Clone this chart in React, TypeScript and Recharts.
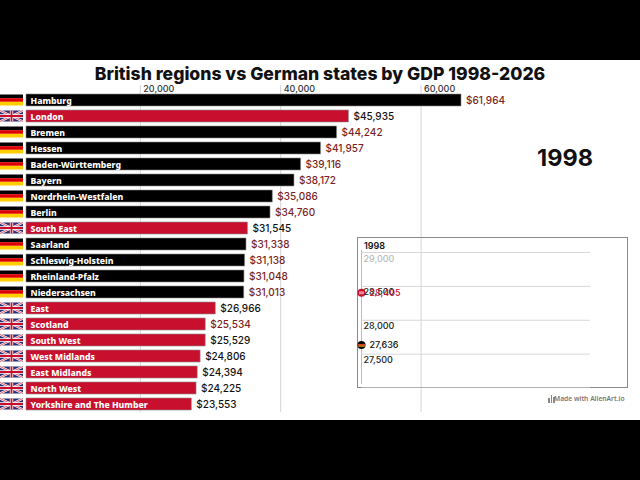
import { Bar, BarChart, CartesianGrid, Cell, LabelList, Line, LineChart, XAxis, YAxis } from 'recharts';

const regions = [
  'Hamburg', 'London', 'Bremen', 'Hessen', 'Baden-Württemberg', 'Bayern', 'Nordrhein-Westfalen', 'Berlin', 'South East', 'Saarland',
  'Schleswig-Holstein', 'Rheinland-Pfalz', 'Niedersachsen', 'East', 'Scotland', 'South West', 'West Midlands', 'East Midlands', 'North West', 'Yorkshire and The Humber',
];
const gdp = [61964, 45935, 44242, 41957, 39116, 38172, 35086, 34760, 31545, 31338, 31138, 31048, 31013, 26966, 25534, 25529, 24806, 24394, 24225, 23553];
const countries = ['de', 'uk', 'de', 'de', 'de', 'de', 'de', 'de', 'uk', 'de', 'de', 'de', 'de', 'uk', 'uk', 'uk', 'uk', 'uk', 'uk', 'uk'];
// rows whose value label is printed in dark red in the picture
const redValueRows = ['Hamburg', 'Bremen', 'Hessen', 'Baden-Württemberg', 'Bayern', 'Nordrhein-Westfalen', 'Berlin', 'Saarland', 'Schleswig-Holstein', 'Rheinland-Pfalz', 'Niedersachsen', 'Scotland'];
const axisTicks = [20000, 40000, 60000];

const insetYear = [1998];
const insetBritish = [28405];
const insetGerman = [27636];
const insetTicks = [27500, 28000, 28500, 29000];

const barData = regions.map((name, i) => ({ name, gdp: gdp[i], country: countries[i] }));
const insetData = insetYear.map((year, i) => ({ year, british: insetBritish[i], german: insetGerman[i] }));

const FONT = 'Inter, sans-serif';
const LABEL_FONT = '"Noto Sans", sans-serif';
const RED = '#c8102e';

const fmt = (v: number) => v.toLocaleString('en-US');

const GermanFlag = ({ x, y, w, h }: any) => (
  <g>
    <rect x={x} y={y} width={w} height={h / 3} fill="#000" />
    <rect x={x} y={y + h / 3} width={w} height={h / 3} fill="#dd0000" />
    <rect x={x} y={y + (2 * h) / 3} width={w} height={h / 3} fill="#ffce00" />
  </g>
);

const UkFlag = ({ x, y, w, h }: any) => (
  <g>
    <rect x={x} y={y} width={w} height={h} fill="#2b2f6e" />
    <path d={`M${x} ${y}L${x + w} ${y + h}M${x + w} ${y}L${x} ${y + h}`} stroke="#fff" strokeWidth={2.2} />
    <path d={`M${x} ${y}L${x + w} ${y + h}M${x + w} ${y}L${x} ${y + h}`} stroke="#c8102e" strokeWidth={0.7} />
    <path d={`M${x + w / 2} ${y}V${y + h}M${x} ${y + h / 2}H${x + w}`} stroke="#fff" strokeWidth={3.4} />
    <path d={`M${x + w / 2} ${y}V${y + h}M${x} ${y + h / 2}H${x + w}`} stroke="#c8102e" strokeWidth={1.8} />
  </g>
);

// flag to the left of each bar
const FlagTick = ({ y, payload }: any) => {
  const c = countries[regions.indexOf(payload.value)];
  return c === 'uk' ? <UkFlag x={0} y={y - 5.5} w={23} h={11} /> : <GermanFlag x={0} y={y - 5.5} w={23} h={11} />;
};

// labels sit right of a short tick line, above the plot
const TopTick = ({ x, payload }: any) => (
  <g>
    <line x1={x} x2={x} y1={85} y2={92} stroke="#cfcfcf" />
    <text x={x + 3} y={92} fontSize={9} fontFamily={FONT} fontWeight={500} fill="#333">
      {fmt(payload.value)}
    </text>
  </g>
);

const NameLabel = ({ x, y, height, value }: any) => (
  <text x={x + 4.5} y={y + height / 2 + 3.7} fontSize={8.7} fontWeight={800} fontFamily={LABEL_FONT} fill="#fff">
    {value}
  </text>
);

const ValueLabel = ({ x, y, width, height, value, index }: any) => (
  <text
    x={x + width + 5}
    y={y + height / 2 + 3.8}
    fontSize={10}
    fontWeight={500}
    fontFamily={FONT}
    fill={redValueRows.includes(regions[index]) ? '#7a1f24' : '#111'}
  >
    ${fmt(value)}
  </text>
);

const InsetTick = ({ x, y, payload }: any) => (
  <text x={x + 10} y={y + 9} fontSize={9} fontWeight={500} fontFamily={FONT} fill={payload.value === 29000 ? '#bbb' : '#222'}>
    {fmt(payload.value)}
  </text>
);

const BritishDot = ({ cx, cy }: any) => (
  <g>
    <circle cx={cx} cy={cy} r={4} fill={RED} />
    <rect x={cx - 2.5} y={cy - 1.5} width={5} height={3} fill="#e58a98" />
  </g>
);

const GermanDot = ({ cx, cy }: any) => (
  <g>
    <circle cx={cx} cy={cy} r={4} fill="#000" />
    <rect x={cx - 3.6} y={cy - 1} width={7.2} height={1.4} fill="#d33" />
    <rect x={cx - 3.2} y={cy + 0.4} width={6.4} height={1.4} fill="#e8a000" />
  </g>
);

// LabelList overrides fill on its content, so the colour goes in under another name
const InsetValue = ({ x, y, value, color }: any) => (
  <text x={x + 8} y={y + 3.5} fontSize={9} fontWeight={500} fontFamily={FONT} fill={color}>
    {fmt(value)}
  </text>
);

export default function App() {
  return (
    <div style={{ position: 'absolute', left: 0, top: 0, width: 640, height: 480, background: '#fff', overflow: 'hidden' }}>
      <div style={{ position: 'absolute', left: 0, top: 0, width: 640, height: 60, background: '#000' }} />
      <div style={{ position: 'absolute', left: 0, top: 420, width: 640, height: 60, background: '#000' }} />
      <div
        style={{
          position: 'absolute',
          top: 61.5,
          left: 0,
          width: 640,
          textAlign: 'center',
          fontFamily: FONT,
          fontWeight: 800,
          fontSize: 17.6,
          lineHeight: '24px',
          color: '#111',
        }}
      >
        British regions vs German states by GDP 1998-2026
      </div>

      <div style={{ position: 'absolute', left: 0, top: 0 }}>
        <BarChart
          width={640}
          height={480}
          data={barData}
          layout="vertical"
          barCategoryGap={2}
          margin={{ top: 91, right: 157.7, bottom: 68, left: 0 }}
        >
          <CartesianGrid xAxisId="grid" horizontal={false} stroke="#d4d4d4" syncWithTicks />
          {/* the printed axis is shifted from the bars in the source, so it gets its own domain */}
          <XAxis
            xAxisId="grid"
            type="number"
            orientation="top"
            domain={[3720, 68720]}
            ticks={axisTicks}
            allowDataOverflow
            axisLine={false}
            tickLine={false}
            tick={<TopTick />}
            height={1}
          />
          <XAxis xAxisId="bars" type="number" domain={[0, 65000]} hide />
          <YAxis type="category" dataKey="name" width={26} axisLine={false} tickLine={false} tick={<FlagTick />} interval={0} />
          <Bar xAxisId="bars" dataKey="gdp" isAnimationActive={false} stroke="#8c8c8c" strokeWidth={0.6}>
            {barData.map((d) => (
              <Cell key={d.name} fill={d.country === 'uk' ? RED : '#000'} />
            ))}
            <LabelList dataKey="name" content={<NameLabel />} />
            <LabelList dataKey="gdp" content={<ValueLabel />} />
          </Bar>
        </BarChart>
      </div>

      <div
        style={{
          position: 'absolute',
          left: 537,
          top: 142,
          fontFamily: FONT,
          fontWeight: 700,
          fontSize: 23.5,
          lineHeight: '32px',
          color: '#111',
        }}
      >
        1998
      </div>

      <div style={{ position: 'absolute', left: 357, top: 237, width: 271, height: 151, border: '1px solid #8a8a8a', boxSizing: 'border-box' }} />
      <div style={{ position: 'absolute', left: 364, top: 239.5, fontFamily: FONT, fontWeight: 600, fontSize: 9, color: '#111' }}>1998</div>
      <div style={{ position: 'absolute', left: 361, top: 250, width: 1, height: 134, background: '#bdbdbd' }} />
      <div style={{ position: 'absolute', left: 357, top: 237 }}>
        <LineChart width={271} height={151} data={insetData} margin={{ top: 15.5, right: 38, bottom: 0, left: 3.5 }}>
          <CartesianGrid vertical={false} stroke="#d8d8d8" />
          <XAxis dataKey="year" type="number" domain={[1998, 2026]} hide />
          <YAxis
            type="number"
            domain={[27000, 29000]}
            ticks={insetTicks}
            width={1}
            axisLine={false}
            tickLine={false}
            tick={<InsetTick />}
            interval={0}
          />
          <Line dataKey="british" stroke={RED} dot={<BritishDot />} isAnimationActive={false}>
            <LabelList dataKey="british" content={<InsetValue color={RED} />} />
          </Line>
          <Line dataKey="german" stroke="#000" dot={<GermanDot />} isAnimationActive={false}>
            <LabelList dataKey="german" content={<InsetValue color="#111" />} />
          </Line>
        </LineChart>
      </div>

      <div style={{ position: 'absolute', left: 548, top: 394, display: 'flex', alignItems: 'flex-end', gap: 1, height: 9 }}>
        <span style={{ width: 1.5, height: 5, background: '#888' }} />
        <span style={{ width: 1.5, height: 8, background: '#888' }} />
        <span style={{ width: 1.5, height: 6, background: '#888' }} />
      </div>
      <div
        style={{
          position: 'absolute',
          left: 554,
          top: 393,
          fontFamily: LABEL_FONT,
          fontSize: 6.7,
          fontWeight: 600,
          lineHeight: '12px',
          color: '#777',
          whiteSpace: 'nowrap',
        }}
      >
        Made with AlienArt.io
      </div>
    </div>
  );
}
